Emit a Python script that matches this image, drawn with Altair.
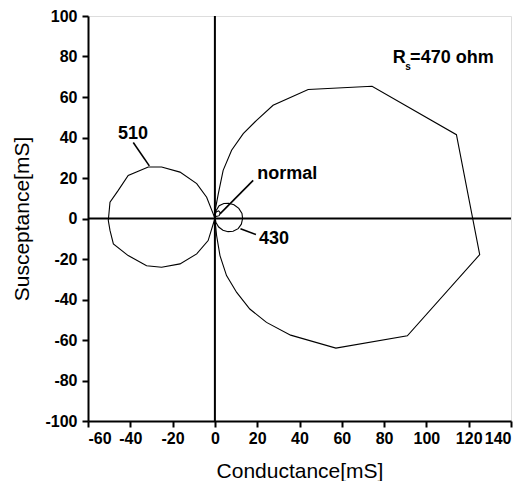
import altair as alt
import pandas as pd

# Rs = 470 ohm curve (conductance G, susceptance B in mS)
g470 = [0, 0.3, 1.6, 3.9, 7.9, 13.4, 19.7, 27.5, 44.1, 74.3, 114.2, 125.2, 91.0, 57.2, 35.8, 24.4, 16.5, 10.3, 5.5, 2.4, 0.8, 0]
b470 = [0, 5, 12.2, 23.8, 33.7, 41.9, 48.5, 55.9, 63.7, 65.3, 41.4, -17.8, -57.9, -64, -57.6, -51.3, -44.7, -36.5, -28.2, -18.3, -8.4, 0]

# Rs = 510 ohm curve
g510 = [0, -0.8, -3.9, -8.6, -16.5, -25.2, -31.5, -41, -45.7, -49.6, -50.4, -49.6, -48, -41, -32.3, -25.2, -16.5, -8.6, -3.2, 0]
b510 = [0, 2.3, 10.5, 17.2, 22.9, 25.4, 25.4, 21.3, 13.9, 8.1, -1, -5.9, -12.5, -18.3, -23.3, -24.1, -22.4, -17.5, -10.9, 0]

# Rs = 430 ohm curve
g430 = [0, 0.6, 2, 4.2, 6.5, 9, 11.3, 12.8, 13.1, 12.5, 11, 8.6, 6.2, 3.8, 1.8, 0.5, 0]
b430 = [1, 4, 6.3, 7.4, 7.5, 6.8, 5, 2.5, 0, -2.8, -5, -6.3, -6.5, -5.8, -4.2, -2, 1]

# normal curve (tiny)
gnorm = [0, 0.5, 1.8, 2.6, 2.0, 0.8, 0]
bnorm = [1.5, 3.2, 3.8, 2.8, 1.4, 1.0, 1.5]

# leader lines
lead_x1 = [2.4, 12.1, -31.0]
lead_y1 = [2.3, -5.1, 26.0]
lead_x2 = [18.1, 19.4, -38.6]
lead_y2 = [18.8, -7.9, 37.5]

# labels
lab_text = ["normal", "430", "R", "=470 ohm"]
lab_x = [20.0, 20.8, 84.1, 92.3]
lab_y = [22.0, -9.9, 79.4, 79.4]
lab510_text = ["510"]
lab510_x = [-38.7]
lab510_y = [41.6]
sub_text = ["s"]
sub_x = [90.0]
sub_y = [75.0]

x_ticks = list(range(-60, 141, 10))
y_ticks = list(range(-100, 101, 10))

FONT = "Liberation Sans"


def curve_df(gs, bs, name):
    return pd.DataFrame({"G": gs, "B": bs, "i": list(range(len(gs))), "c": name})


curves = pd.concat([
    curve_df(g470, b470, "470"),
    curve_df(g510, b510, "510"),
    curve_df(g430, b430, "430"),
    curve_df(gnorm, bnorm, "normal"),
])

xscale = alt.Scale(domain=[-60, 140], nice=False, zero=False)
yscale = alt.Scale(domain=[-100, 100], nice=False, zero=False)

tick_cond = {"condition": {"test": "datum.value % 20 === 0", "value": 6}, "value": 3}
label_expr = "datum.value % 20 === 0 ? ('' + datum.value) : ''"

common = dict(
    labelExpr=label_expr,
    tickSize=tick_cond,
    tickWidth=2,
    domainWidth=2,
    domainColor="black",
    tickColor="black",
    labelColor="black",
    titleColor="black",
    labelFont=FONT,
    labelFontSize=16,
    labelFontWeight="bold",
    titleFont=FONT,
    titleFontSize=21,
    titleFontWeight="normal",
    grid=False,
)

xaxis = alt.Axis(values=x_ticks, titlePadding=14, labelPadding=3, **common)
yaxis = alt.Axis(values=y_ticks, titlePadding=12, labelPadding=5, **common)

lines = alt.Chart(curves).mark_line(color="black", strokeWidth=1.1).encode(
    x=alt.X("G:Q", scale=xscale, axis=xaxis, title="Conductance[mS]"),
    y=alt.Y("B:Q", scale=yscale, axis=yaxis, title="Susceptance[mS]"),
    detail="c:N",
    order="i:Q",
)

vrule = alt.Chart(pd.DataFrame({"G": [0]})).mark_rule(color="black", strokeWidth=2).encode(
    x=alt.X("G:Q", scale=xscale)
)
hrule = alt.Chart(pd.DataFrame({"B": [0]})).mark_rule(color="black", strokeWidth=2).encode(
    y=alt.Y("B:Q", scale=yscale)
)

leads = alt.Chart(pd.DataFrame({"x1": lead_x1, "y1": lead_y1, "x2": lead_x2, "y2": lead_y2})).mark_rule(
    color="black", strokeWidth=1.6
).encode(
    x=alt.X("x1:Q", scale=xscale), y=alt.Y("y1:Q", scale=yscale), x2="x2:Q", y2="y2:Q"
)

labels = alt.Chart(pd.DataFrame({"x": lab_x, "y": lab_y, "t": lab_text})).mark_text(
    align="left", baseline="middle", font=FONT, fontSize=18, fontWeight="bold", color="black"
).encode(x=alt.X("x:Q", scale=xscale), y=alt.Y("y:Q", scale=yscale), text="t:N")

label510 = alt.Chart(pd.DataFrame({"x": lab510_x, "y": lab510_y, "t": lab510_text})).mark_text(
    align="center", baseline="middle", font=FONT, fontSize=18, fontWeight="bold", color="black"
).encode(x=alt.X("x:Q", scale=xscale), y=alt.Y("y:Q", scale=yscale), text="t:N")

subs = alt.Chart(pd.DataFrame({"x": sub_x, "y": sub_y, "t": sub_text})).mark_text(
    align="left", baseline="middle", font=FONT, fontSize=10, fontWeight="bold", color="black"
).encode(x=alt.X("x:Q", scale=xscale), y=alt.Y("y:Q", scale=yscale), text="t:N")

chart = alt.layer(lines, vrule, hrule, leads, labels, label510, subs).properties(
    width=423,
    height=405,
    padding={"left": 80, "top": 8, "right": 4, "bottom": 60},
    autosize=alt.AutoSizeParams(type="none"),
).configure_view(stroke=None).configure(background="white")

chart.save("out.html", embed_options={"renderer": "svg", "actions": False})
